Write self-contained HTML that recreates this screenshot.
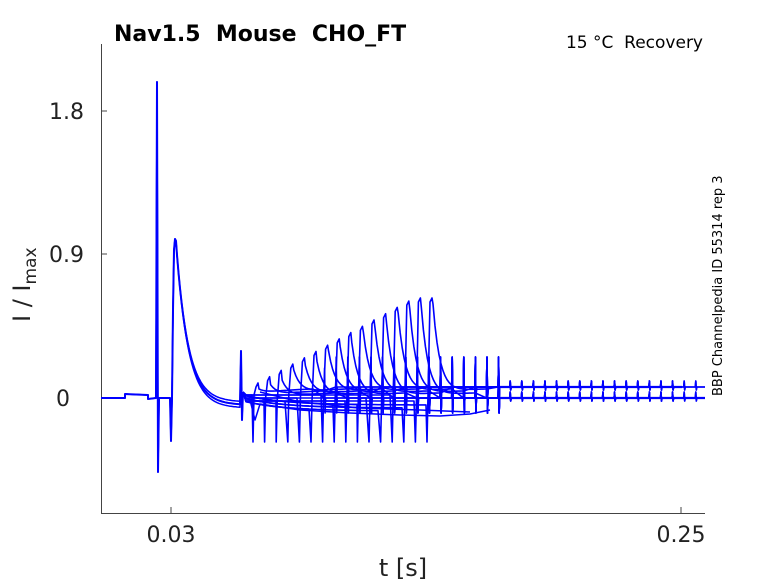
<!DOCTYPE html>
<html><head><meta charset="utf-8"><style>
body{margin:0;background:#fff;width:778px;height:583px;overflow:hidden}
svg{font-family:"DejaVu Sans","Liberation Sans",sans-serif}
text{white-space:pre}
</style></head><body>
<svg id="s" width="778" height="583" xmlns="http://www.w3.org/2000/svg">
<rect width="778" height="583" fill="#fff"/>
<g stroke="#444" stroke-width="1" fill="none">
<path d="M101.5 44V513.5H705"/>
<path d="M101 111H107M101 254H107M101 398H107M171 513V507M681 513V507"/>
</g>
<g font-size="22" fill="#222">
<text x="84" y="119" text-anchor="end">1.8</text>
<text x="84" y="262" text-anchor="end">0.9</text>
<text x="70" y="406" text-anchor="end">0</text>
<text x="171" y="542" text-anchor="middle">0.03</text>
<text x="681" y="542" text-anchor="middle">0.25</text>
<text x="403" y="576" text-anchor="middle" font-size="24">t [s]</text>
<text transform="translate(30,322) rotate(-90)" font-size="24">I / I<tspan font-size="17" dy="6">max</tspan></text>
</g>
<text x="114" y="41" font-size="22" font-weight="bold" fill="#000" xml:space="preserve">Nav1.5  Mouse  CHO_FT</text>
<text x="703" y="48" font-size="17" text-anchor="end" fill="#000" xml:space="preserve">15 °C  Recovery</text>
<text transform="translate(722,396) rotate(-90)" font-size="13" fill="#000">BBP Channelpedia ID 55314 rep 3</text>
<g id="tr" fill="none" stroke="#0000ff" stroke-width="1.4" stroke-linejoin="round"></g>
</svg>
<script>
var g=document.getElementById('tr');
function add(d,w){var p=document.createElementNS('http://www.w3.org/2000/svg','path');p.setAttribute('d',d);if(w)p.setAttribute('stroke-width',w);g.appendChild(p);}
function pre(off){
var d='M101 398L125 398L125 394L148 395L148 399L156 398L157 82L158 472L159 398L170 398L171 441L172 398L173 310L174 250L175 239L176 241';
for(var x=177;x<=240;x+=1.5){var y=(405+off)-((405+off)-242)*Math.exp(-(x-176)/12);d+='L'+x+' '+y.toFixed(1);}
d+='L241 351L242 420L243 392';return d;}
add(pre(0),2);add(pre(-3),1.5);add(pre(3),1.5);
for(var k=0;k<16;k++){
 var xp=253+11.6*k, amp=15+k*6.3; if(amp>100)amp=100;
 var base=395+(k%3)*3;
 var s='M243 392';
 for(var x=246;x<xp;x+=3){s+='L'+x+' '+(base+ (k%2?10*(1-Math.exp(-(x-243)/40)):0)).toFixed(1);}
 s+='L'+xp.toFixed(1)+' 442L'+(xp+1).toFixed(1)+' '+base;
 var pk=398-amp;
 s+='L'+(xp+3).toFixed(1)+' '+(pk+4).toFixed(1)+'L'+(xp+5).toFixed(1)+' '+pk.toFixed(1);
 for(var x=xp+6;x<=xp+60;x+=2){var y=388+(pk-388)*Math.exp(-(x-xp-6)/7)+6*Math.exp(-(x-xp-6)/30)+(k%3)*2;s+='L'+x.toFixed(1)+' '+y.toFixed(1);}
 var end=k<8?500:(k<12?682:705), lev=k%2?387:398;
 var x=xp+60;
 while(x<end){x+=11.6; if(x>end)break; var big=x<500; s+='L'+(x-0.5).toFixed(1)+' '+lev+'L'+x.toFixed(1)+' '+(lev-(big?30:6))+'L'+(x+0.5).toFixed(1)+' '+(lev+(big?15:3))+'L'+(x+1).toFixed(1)+' '+lev;}
 s+='L'+end+' '+lev;
 add(s,1.6);
}
add('M250 400L255 420L260 404L300 410L350 413L400 415L440 416L470 414L490 410',1.5);
add('M260 392L300 402L360 408L420 410L470 412',1.5);
add('M500 387L682 387M500 398L705 398',2.2);
</script>
</body></html>
